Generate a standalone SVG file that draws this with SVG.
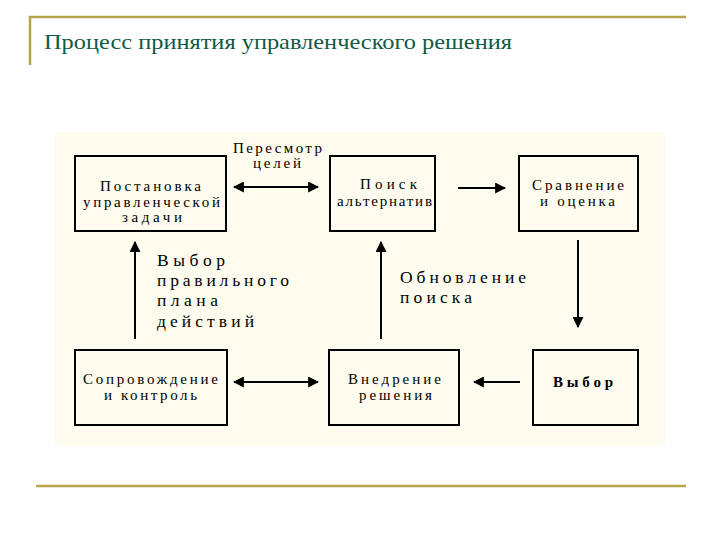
<svg xmlns="http://www.w3.org/2000/svg" width="720" height="540" viewBox="0 0 720 540">
<style>
.box{fill:none;stroke:#000;stroke-width:2}
.bt{font-family:"Liberation Serif",serif;font-size:15px;fill:#000}
.lb{font-family:"Liberation Serif",serif;font-size:17.5px;fill:#000}
.ln{stroke:#000;stroke-width:2;fill:none}
.rule{stroke:#b8a24e;stroke-width:2.5;fill:none}
</style>
<defs>
<marker id="ah" viewBox="0 0 10 10" refX="9" refY="5" markerWidth="5.5" markerHeight="5.5" orient="auto-start-reverse" markerUnits="strokeWidth">
<path d="M0,0 L10,5 L0,10 z" fill="#000"/>
</marker>
</defs>
<rect width="720" height="540" fill="#fff"/>
<g id="header">
<path class="rule" d="M30,65 V17 H686"/>
<text x="44" y="49" font-family="'Liberation Serif',serif" font-size="21" fill="#0f5a48" textLength="468" lengthAdjust="spacingAndGlyphs">Процесс принятия управленческого решения</text>
</g>
<path class="rule" d="M36,486 H686"/>
<rect x="55" y="132" width="610" height="313" fill="#fdfcee"/>
<g id="connectors">
<line class="ln" x1="234" y1="187" x2="318" y2="187" marker-start="url(#ah)" marker-end="url(#ah)"/>
<line class="ln" x1="458" y1="188" x2="505" y2="188" marker-end="url(#ah)"/>
<line class="ln" x1="578" y1="240" x2="578" y2="327" marker-end="url(#ah)"/>
<line class="ln" x1="520" y1="382" x2="474" y2="382" marker-end="url(#ah)"/>
<line class="ln" x1="234" y1="382" x2="318" y2="382" marker-start="url(#ah)" marker-end="url(#ah)"/>
<line class="ln" x1="381" y1="339" x2="381" y2="242" marker-end="url(#ah)"/>
<line class="ln" x1="135" y1="339" x2="135" y2="242" marker-end="url(#ah)"/>
<text class="bt" x="233" y="153" font-size="14" textLength="89" lengthAdjust="spacing">Пересмотр</text>
<text class="bt" x="253" y="168" font-size="14" textLength="48" lengthAdjust="spacing">целей</text>
<text class="lb" x="157" y="266" textLength="68" lengthAdjust="spacing">Выбор</text>
<text class="lb" x="157" y="286" textLength="132" lengthAdjust="spacing">правильного</text>
<text class="lb" x="157" y="306" textLength="61" lengthAdjust="spacing">плана</text>
<text class="lb" x="157" y="327" textLength="97" lengthAdjust="spacing">действий</text>
<text class="lb" x="400" y="283" textLength="126" lengthAdjust="spacing">Обновление</text>
<text class="lb" x="400" y="303" textLength="72" lengthAdjust="spacing">поиска</text>
</g>
<g id="n1"><rect class="box" x="75" y="156" width="151" height="75"/>
<text class="bt" x="100" y="191" textLength="101" lengthAdjust="spacing">Постановка</text>
<text class="bt" x="83" y="207" textLength="137" lengthAdjust="spacing">управленческой</text>
<text class="bt" x="122" y="222" textLength="60" lengthAdjust="spacing">задачи</text></g>
<g id="n2"><rect class="box" x="330" y="156" width="105" height="75"/>
<text class="bt" x="360" y="189" textLength="57" lengthAdjust="spacing">Поиск</text>
<text class="bt" x="337" y="206" textLength="95" lengthAdjust="spacing">альтернатив</text></g>
<g id="n3"><rect class="box" x="519" y="156" width="119" height="75"/>
<text class="bt" x="532" y="190" textLength="92" lengthAdjust="spacing">Сравнение</text>
<text class="bt" x="540" y="206" textLength="75" lengthAdjust="spacing">и оценка</text></g>
<g id="n4"><rect class="box" x="75" y="350" width="152" height="75"/>
<text class="bt" x="83" y="384" textLength="135" lengthAdjust="spacing">Сопровождение</text>
<text class="bt" x="104" y="400" textLength="93" lengthAdjust="spacing">и контроль</text></g>
<g id="n5"><rect class="box" x="329" y="350" width="130" height="75"/>
<text class="bt" x="348" y="384" textLength="93" lengthAdjust="spacing">Внедрение</text>
<text class="bt" x="359" y="400" textLength="73" lengthAdjust="spacing">решения</text></g>
<g id="n6"><rect class="box" x="533" y="350" width="105" height="75"/>
<text class="bt" x="553" y="387" font-weight="bold" textLength="60" lengthAdjust="spacing">Выбор</text></g>
</svg>
